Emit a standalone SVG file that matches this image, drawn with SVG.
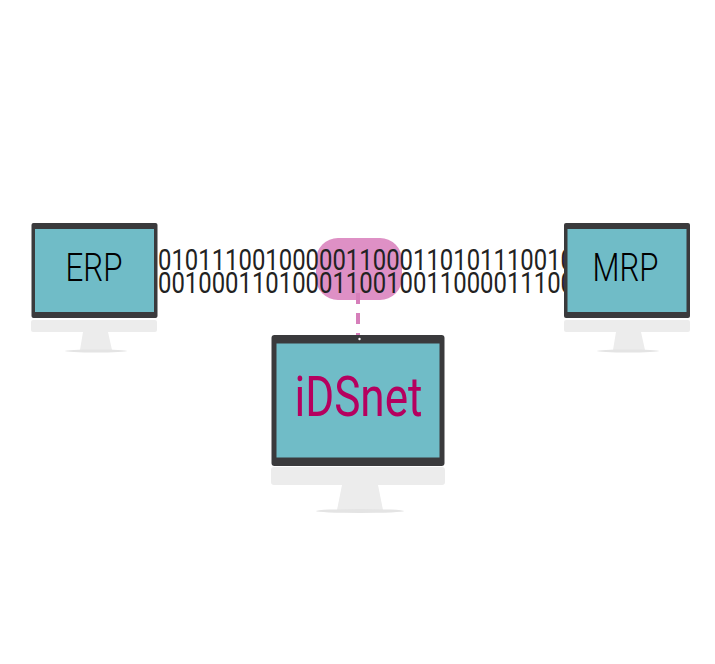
<svg xmlns="http://www.w3.org/2000/svg" width="715" height="664" viewBox="0 0 715 664">
<style>
.d{font-family:Roboto,"Liberation Sans",sans-serif;font-size:29px;font-weight:400;fill:#222}
.l{font-family:Roboto,"Liberation Sans",sans-serif;font-weight:300;fill:#000;text-anchor:middle}
.frame{fill:#3a3a3c}.screen{fill:#70bcc7}.base{fill:#ececec}.foot{fill:#e4e4e4}
</style>
<rect width="715" height="664" fill="#fff"/>
<g id="connectors">
<rect id="link-highlight" x="316" y="238" width="86" height="62" rx="22" fill="#de90c5"/>
<path d="M358 293V337" stroke="#d67fba" stroke-width="4" stroke-dasharray="11 9" fill="none"/>
<text class="d" x="158" y="270" textLength="416" lengthAdjust="spacingAndGlyphs">0101110010000011000110101110010</text>
<text class="d" x="158" y="293" textLength="416" lengthAdjust="spacingAndGlyphs">0010001101000110010011000011100</text>
</g>
<g id="erp">
<rect class="base" x="31" y="320" width="126" height="12" rx="2"/>
<path class="base" d="M83 332H108L112 350H80Z"/>
<ellipse class="foot" cx="96" cy="351" rx="31" ry="1.500"/>
<rect class="frame" x="31.500" y="223" width="126" height="95" rx="2"/>
<rect class="screen" x="35" y="229" width="119" height="83"/>
<text class="l" x="94" y="281" font-size="39" textLength="57" lengthAdjust="spacingAndGlyphs">ERP</text>
</g>
<g id="mrp">
<rect class="base" x="564" y="320" width="126" height="12" rx="2"/>
<path class="base" d="M616 332H641L645 350H613Z"/>
<ellipse class="foot" cx="628" cy="351" rx="31" ry="1.500"/>
<rect class="frame" x="564" y="223" width="126" height="95" rx="2"/>
<rect class="screen" x="567.500" y="229" width="119" height="83"/>
<text class="l" x="625.500" y="281" font-size="39" textLength="66" lengthAdjust="spacingAndGlyphs">MRP</text>
</g>
<g id="idsnet">
<rect class="base" x="271" y="467" width="174" height="18" rx="3"/>
<path class="base" d="M342 485H378L383 510H337Z"/>
<ellipse class="foot" cx="360" cy="511" rx="44" ry="2"/>
<rect class="frame" x="271.500" y="335" width="173" height="131" rx="3"/>
<rect class="screen" x="276.500" y="343.500" width="163" height="114"/>
<circle cx="359.500" cy="339" r="1.200" fill="#fff"/>
<text class="l" x="358.500" y="416" font-size="55" style="fill:#b5005f;font-weight:400" textLength="128" lengthAdjust="spacingAndGlyphs">iDSnet</text>
</g>
</svg>
